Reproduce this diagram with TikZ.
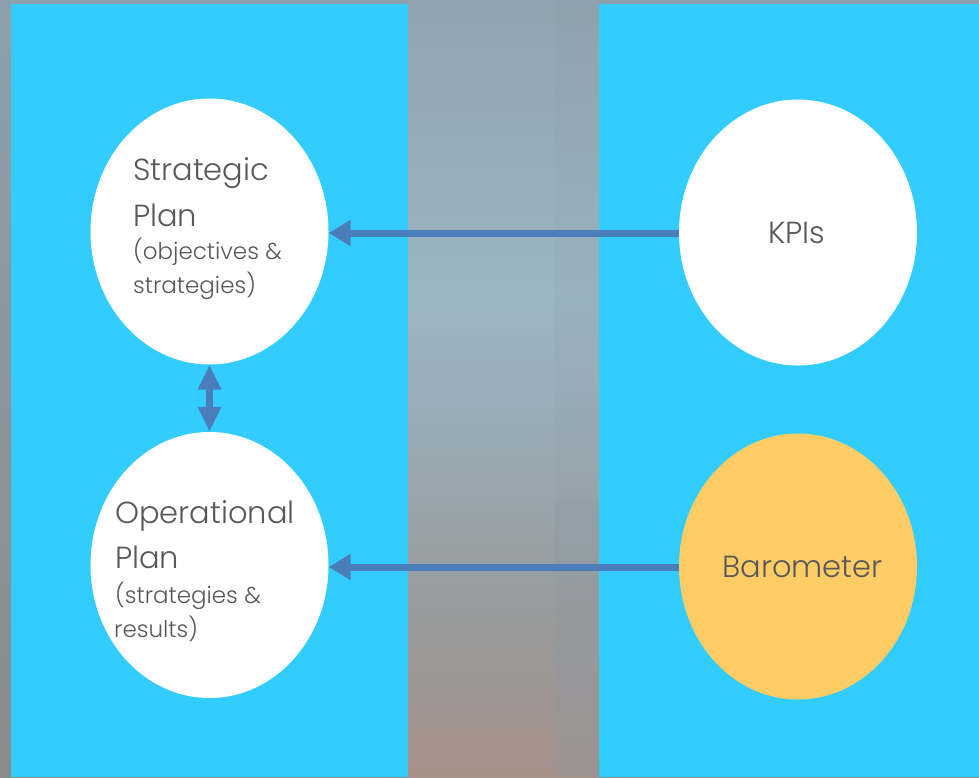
\documentclass[tikz,border=0pt]{standalone}
\usepackage{fontspec}
\setmainfont{Poppins}[UprightFont=* Light]
\usetikzlibrary{shapes.geometric,arrows.meta}
\definecolor{panel}{HTML}{33CCFF}
\definecolor{arrowblue}{HTML}{4A7EBB}
\definecolor{txt}{HTML}{595959}
\definecolor{amber}{HTML}{FFCC66}
\definecolor{midtop}{HTML}{8FA4AE}
\definecolor{midup}{HTML}{9BB5C5}
\definecolor{midlow}{HTML}{979C9E}
\definecolor{midbot}{HTML}{A69087}
\definecolor{sidetop}{HTML}{8CA0AC}
\definecolor{sidebot}{HTML}{8A8A8A}
\definecolor{stripe}{HTML}{8A98A6}
\tikzset{
  x=1pt,y=-1pt,
  bubble/.style={ellipse,minimum width=238pt,minimum height=266pt,inner sep=0pt,fill=white},
  big/.style={anchor=base west,inner sep=0pt,text=txt,font=\fontsize{30.5}{31}\selectfont},
  small/.style={anchor=base west,inner sep=0pt,text=txt,font=\fontsize{23}{24}\selectfont},
  link/.style={draw=arrowblue,line width=7pt},
  sidetip/.style={-{Triangle[length=22pt,width=25pt]}},
  bothtip/.style={{Triangle[length=25pt,width=22pt]}-{Triangle[length=25pt,width=22pt]}}
}
\begin{document}
\begin{tikzpicture}
\useasboundingbox (0,0) rectangle (979,777);
\shade[top color=sidetop,bottom color=sidebot] (0,0) rectangle (979,777);
\shade[top color=midtop,bottom color=midup] (408,0) rectangle (599,300);
\shade[top color=midup,bottom color=midlow] (408,300) rectangle (599,600);
\shade[top color=midlow,bottom color=midbot] (408,600) rectangle (599,777);
\fill[stripe,opacity=0.12] (555,0) rectangle (599,500);
\fill[stripe,opacity=0.3] (555,500) rectangle (599,777);
\fill[panel] (11,4) rectangle (408,777);
\fill[panel] (599,4) rectangle (979,777);
\node[bubble] (strategic) at (209.5,231.5) {};
\node[bubble] (operational) at (209.5,565) {};
\node[bubble] (kpis) at (798,232.5) {};
\node[bubble,fill=amber] (barometer) at (798,566.5) {};
\node[big] (s1) at (133,180) {Strategic};
\node[big] (s2) at (133,226) {Plan};
\node[small] (s3) at (133,259) {(objectives \&};
\node[small] (s4) at (133,293) {strategies)};
\node[big] (o1) at (115,523) {Operational};
\node[big] (o2) at (115,568) {Plan};
\node[small] (o3) at (115,603) {(strategies \&};
\node[small] (o4) at (114,637) {results)};
\node[big] (k1) at (768,243) {KPIs};
\node[big] (b1) at (722,577) {Barometer};
\draw[link,sidetip] ([yshift=-0.5pt]kpis.west) -- ([yshift=-1.5pt]strategic.east);
\draw[link,sidetip] ([yshift=-0.5pt]barometer.west) -- ([yshift=-2pt]operational.east);
\draw[link,bothtip] (strategic.south) -- (operational.north);
\end{tikzpicture}
\end{document}
